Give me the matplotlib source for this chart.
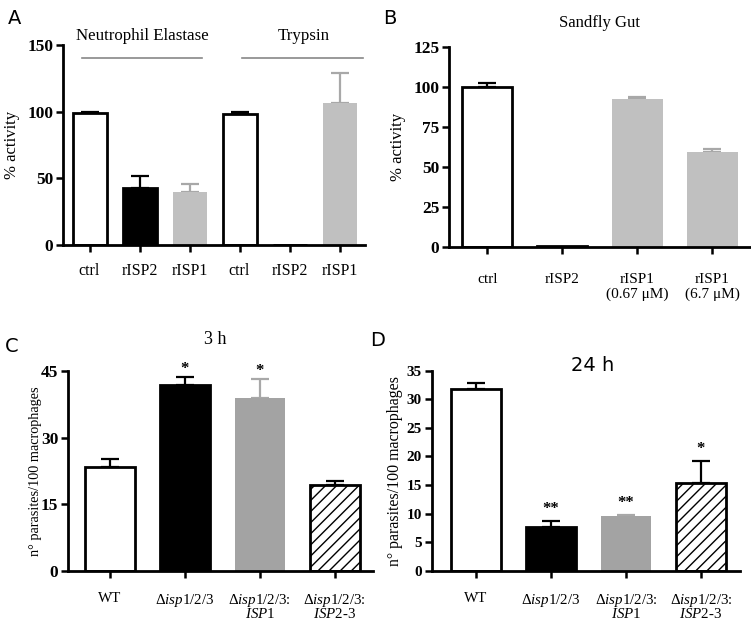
import matplotlib
matplotlib.use("Agg")
import matplotlib.pyplot as plt
import numpy as np

plt.rcParams['font.family'] = ['Liberation Serif', 'DejaVu Serif']
plt.rcParams['mathtext.fontset'] = 'custom'
plt.rcParams['mathtext.rm'] = 'Liberation Serif'
plt.rcParams['mathtext.it'] = 'Liberation Serif:italic'
plt.rcParams['hatch.linewidth'] = 1.0

# panel A
a_labels = ["ctrl", "rISP2", "rISP1", "ctrl", "rISP2", "rISP1"]
a_values = [99, 42.5, 40, 98, 0, 106.3]
a_err = [1, 9.3, 5.5, 2, 0, 22.7]
a_colors = ["white", "black", "#c0c0c0", "white", "black", "#c0c0c0"]
a_groups = ["Neutrophil Elastase", "Trypsin"]

# panel B
b_labels = ["ctrl", "rISP2", "rISP1\n(0.67 \u03bcM)", "rISP1\n(6.7 \u03bcM)"]
b_values = [100, 0.5, 92.1, 59]
b_err = [2.5, 0, 1.7, 2]
b_colors = ["white", "black", "#c0c0c0", "#c0c0c0"]

# panels C and D
cd_labels = ["WT", r"$\Delta\mathit{isp}$1/2/3", "$\\Delta\\mathit{isp}$1/2/3:\n$\\mathit{ISP}$1",
             "$\\Delta\\mathit{isp}$1/2/3:\n$\\mathit{ISP}$2-3"]
c_values = [23.3, 41.8, 38.9, 19.2]
c_err = [1.9, 1.9, 4.2, 1.1]
c_stars = ["", "*", "*", ""]
d_values = [31.8, 7.7, 9.5, 15.35]
d_err = [1.0, 1.05, 0.3, 3.8]
d_stars = ["", "**", "**", "*"]
c_colors = ["white", "black", "#a3a3a3", "white"]
c_hatch = [None, None, None, "///"]

W, H = 751, 620
fig = plt.figure(figsize=(W / 100, H / 100), dpi=100)


def make_ax(left, right, top, bottom):
    return fig.add_axes([left / W, (H - bottom) / H, (right - left) / W, (bottom - top) / H])


def style(ax, ysize=12.5):
    for s in ['top', 'right']:
        ax.spines[s].set_visible(False)
    for s in ['left', 'bottom']:
        ax.spines[s].set_linewidth(2)
    ax.tick_params(axis='both', direction='out', width=1.8, length=5)
    ax.tick_params(axis='y', labelsize=ysize, pad=2)
    for lab in ax.get_yticklabels():
        lab.set_fontweight('bold')


def bars(ax, values, err, colors, width, hatches=None):
    x = np.arange(len(values))
    for i, (v, e, c) in enumerate(zip(values, err, colors)):
        gray = c not in ("white", "black")
        ec = c if gray else "black"
        h = hatches[i] if hatches else None
        ax.bar(x[i], v, width, color=c, edgecolor=ec, linewidth=2 if not gray else 0,
               hatch=h, zorder=2)
        if e > 0:
            ax.errorbar(x[i], v, yerr=[[0], [e]], fmt='none', ecolor="#a8a8a8" if gray else "black",
                        elinewidth=1.6, capsize=6.5, capthick=1.6, zorder=1)
    return x


# A
ax = make_ax(63, 365, 45, 245)
x = bars(ax, a_values, a_err, a_colors, 0.68)
ax.set_xlim(-0.53, 5.51)
ax.set_ylim(0, 150)
ax.set_yticks([0, 50, 100, 150])
ax.set_xticks(x)
ax.set_xticklabels(a_labels, fontsize=11.5)
ax.tick_params(axis='x', pad=8)
ax.set_ylabel("% activity", fontsize=12)
ax.yaxis.set_label_coords(-0.142, 0.5)
style(ax)
ax.plot([-0.15, 2.25], [140, 140], color="#888888", lw=1.2, clip_on=False)
ax.plot([3.05, 5.47], [140, 140], color="#888888", lw=1.2, clip_on=False)
ax.text(1.05, 157, a_groups[0], ha='center', va='center', fontsize=12.2)
ax.text(4.28, 157, a_groups[1], ha='center', va='center', fontsize=12.2)
fig.text(8 / W, 1 - 18 / H, "A", fontsize=14, family='DejaVu Sans', va='center')

# B
ax = make_ax(449, 750, 46.7, 246.7)
x = bars(ax, b_values, b_err, b_colors, 0.67)
ax.set_xlim(-0.51, 3.5)
ax.set_ylim(0, 125)
ax.set_yticks([0, 25, 50, 75, 100, 125])
ax.set_xticks(x)
ax.set_xticklabels(b_labels, fontsize=11, linespacing=1.15)
ax.tick_params(axis='x', pad=14)
ax.set_ylabel("% activity", fontsize=12)
ax.yaxis.set_label_coords(-0.143, 0.5)
style(ax)
ax.set_title("Sandfly Gut", fontsize=12, pad=14)
fig.text(383 / W, 1 - 18 / H, "B", fontsize=14, family='DejaVu Sans', va='center')

# C
ax = make_ax(68, 373, 371, 570.7)
x = bars(ax, c_values, c_err, c_colors, 0.67, c_hatch)
ax.set_xlim(-0.56, 3.51)
ax.set_ylim(0, 45)
ax.set_yticks([0, 15, 30, 45])
ax.set_xticks(x)
ax.set_xticklabels(cd_labels, fontsize=10.8, va='top', linespacing=0.85)
ax.tick_params(axis='x', pad=10)
ax.set_ylabel("n\u00b0 parasites/100 macrophages", fontsize=10.3)
ax.yaxis.set_label_coords(-0.085, 0.5)
style(ax)
for i, s in enumerate(c_stars):
    if s:
        ax.annotate(s, (x[i], c_values[i] + c_err[i]), xytext=(0, 0), textcoords='offset points',
                    ha='center', va='bottom', fontsize=12, fontweight='bold', annotation_clip=False)
ax.text(1.4, 52.1, "3 h", ha='center', va='center', fontsize=13)
fig.text(5 / W, 1 - 346 / H, "C", fontsize=14, family='DejaVu Sans', va='center')

# D
ax = make_ax(431.7, 740, 370.7, 570.7)
x = bars(ax, d_values, d_err, c_colors, 0.67, c_hatch)
ax.set_xlim(-0.59, 3.52)
ax.set_ylim(0, 35)
ax.set_yticks(np.arange(0, 36, 5))
ax.set_xticks(x)
ax.set_xticklabels(cd_labels, fontsize=10.8, va='top', linespacing=0.85)
ax.tick_params(axis='x', pad=10)
ax.set_ylabel("n\u00b0 parasites/100 macrophages", fontsize=11.4)
ax.yaxis.set_label_coords(-0.094, 0.5)
style(ax, ysize=11)
for i, s in enumerate(d_stars):
    if s:
        ax.annotate(s, (x[i], d_values[i] + d_err[i]), xytext=(0, 3), textcoords='offset points',
                    ha='center', va='bottom', fontsize=12, fontweight='bold')
ax.text(1.55, 35.9, "24 h", ha='center', va='center', fontsize=14, family='DejaVu Sans')
fig.text(370 / W, 1 - 340 / H, "D", fontsize=14, family='DejaVu Sans', va='center')

fig.savefig("out.png", dpi=100)
